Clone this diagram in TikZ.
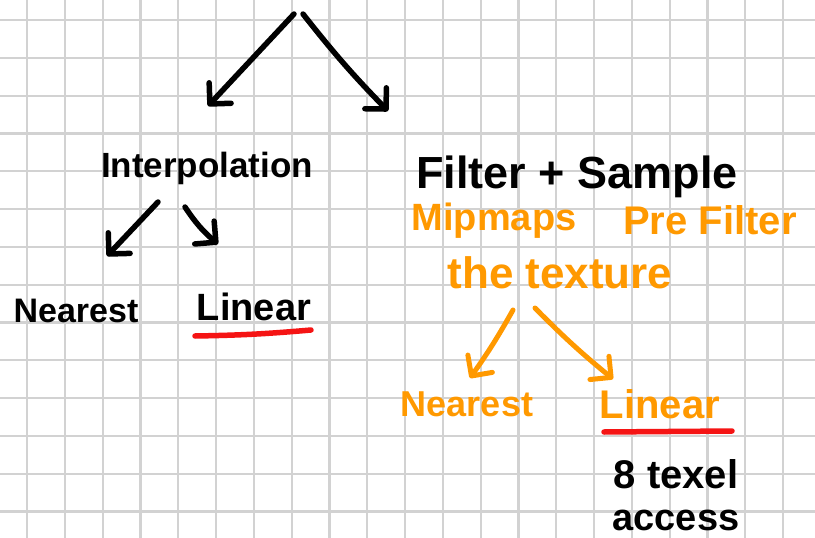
\documentclass[tikz,border=0pt]{standalone}
\usepackage{fontspec}
\setmainfont{Liberation Sans}
\usetikzlibrary{arrows.meta}
\definecolor{penorange}{RGB}{255,153,0}
\definecolor{penred}{RGB}{245,20,20}
\definecolor{gridgray}{RGB}{210,210,210}
\tikzset{
  ink/.style={line width=5.5pt, line cap=round, line join=round},
  inkarrow/.style={ink, -{Straight Barb[length=15pt,width=30pt,line cap=round,line join=round]}},
  blacktext/.style={anchor=base, inner sep=0pt, font=\bfseries\fontsize{34}{38}\selectfont, text=black},
  orangetext/.style={anchor=base, inner sep=0pt, font=\bfseries\fontsize{36}{40}\selectfont, text=penorange},
  underline/.style={line width=5.5pt, line cap=round, draw=penred}
}
\begin{document}
\begin{tikzpicture}[x=1pt,y=-1pt]
\useasboundingbox (0,0) rectangle (815,538);
\fill[white] (0,0) rectangle (815,538);
% grid
\foreach \k in {0,...,20} {\draw[gridgray, line width=2.2pt] ({27+37.8*\k},0) -- ({27+37.8*\k},538);}
\foreach \k in {0,...,13} {\draw[gridgray, line width=2.2pt] (0,{20+37.8*\k}) -- (815,{20+37.8*\k});}

% black texts
\node[blacktext, font=\bfseries\fontsize{35}{38}\selectfont] (interp) at (207,177) {Interpolation};
\node[blacktext, font=\bfseries\fontsize{45}{48}\selectfont] (filter) at (577,188) {Filter + Sample};
\node[blacktext] (nearest1) at (76,322) {Nearest};
\node[blacktext, font=\bfseries\fontsize{38}{42}\selectfont] (linear1) at (254,320) {Linear};

% orange texts
\node[orangetext, font=\bfseries\fontsize{38}{42}\selectfont] (mip) at (494,230) {Mipmaps};
\node[orangetext, font=\bfseries\fontsize{40}{44}\selectfont] (pre) at (710,234) {Pre Filter};
\node[orangetext, font=\bfseries\fontsize{44}{48}\selectfont] (tex) at (560,288) {the texture};
\node[orangetext] (nearest2) at (467,416) {Nearest};
\node[orangetext, font=\bfseries\fontsize{40}{44}\selectfont] (linear2) at (660,418) {Linear};

% 8 texel access
\node[blacktext, font=\bfseries\fontsize{40}{44}\selectfont] (texel) at (676,488) {8 texel};
\node[blacktext, font=\bfseries\fontsize{38}{42}\selectfont] (access) at (676,530) {access};

% arrow end points
\coordinate (r1) at (294,14);
\coordinate (r2) at (303,14);
\coordinate (t1) at (208,106);
\coordinate (t2) at (388,111);
\coordinate (i1s) at (158,202);
\coordinate (i1e) at (107,256);
\coordinate (i2s) at (185,207);
\coordinate (i2e) at (218,244);
\coordinate (o1s) at (513,310);
\coordinate (o1e) at (470,378);
\coordinate (o2s) at (535,308);
\coordinate (o2e) at (613,379);

% black arrows
\draw[inkarrow] (r1) -- (t1);
\draw[inkarrow] (r2) to[bend right=3] (t2);
\draw[inkarrow] (i1s) -- (i1e);
\draw[inkarrow] (i2s) to[bend right=8] (i2e);

% orange arrows
\draw[inkarrow, penorange, line width=5pt] (o1s) to[bend left=3] (o1e);
\draw[inkarrow, penorange, line width=5pt] (o2s) to[bend right=3] (o2e);

% red underlines
\coordinate (u1s) at (195,336);
\coordinate (u1e) at (311,330);
\coordinate (u2s) at (604,432);
\coordinate (u2e) at (732,431);
\draw[underline] (u1s) to[bend right=2] (u1e);
\draw[underline] (u2s) -- (u2e);
\end{tikzpicture}
\end{document}
